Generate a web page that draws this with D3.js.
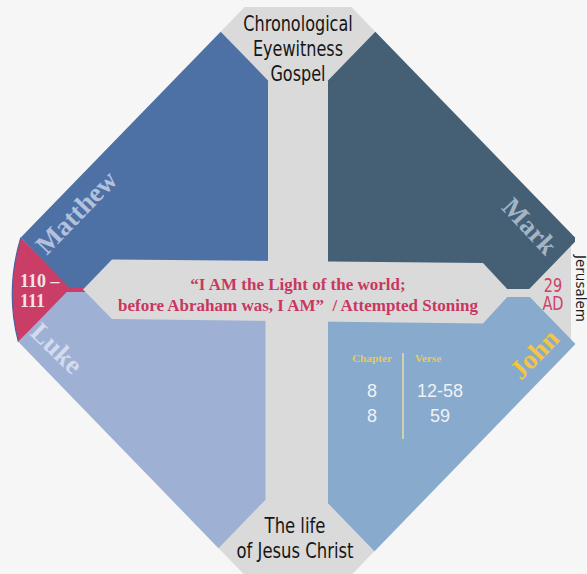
<!DOCTYPE html>
<html><head><meta charset="utf-8">
<script src="https://cdn.jsdelivr.net/npm/d3@7"></script>
<style>
html,body{margin:0;padding:0;background:#f6f6f6;}
svg{display:block;}
</style></head>
<body>
<svg id="chart" width="587" height="574"></svg>
<script>
// ---- content ----
const gospels = ["Matthew", "Mark", "Luke", "John"];
const gospelFill = ["#4e71a5", "#455f75", "#9eb0d4", "#87aacd"];
const gospelText = ["#b4c1dd", "#a3b4c4", "#d3dbec", "#f4c542"];
const titleLines = ["Chronological", "Eyewitness", "Gospel"];
const footerLines = ["The life", "of Jesus Christ"];
const quoteLines = ["\u201CI AM the Light of the world;", "before Abraham was, I AM\u201D\u00A0 / Attempted Stoning"];
const pageRange = ["110 \u2013", "111"];
const dateLines = ["29", "AD"];
const place = "Jerusalem";
const tableHeaders = ["Chapter", "Verse"];
const chapters = ["8", "8"];
const verses = ["12-58", "59"];

// ---- layout ----
const W = 587, H = 574;
const svg = d3.select("#chart");
const cx = 298, cy = 291, ra = 329, rb = 339;
const xS = d3.scaleLinear().domain([-1, 1]).range([cx - ra, cx + ra]);
const yS = d3.scaleLinear().domain([-1, 1]).range([cy - rb, cy + rb]);
// diamond coords: s = X+Y, q = X-Y
const pt = (s, q) => [xS((s + q) / 2), yS((s - q) / 2)];
const rectSQ = (s0, s1, q0, q1) => [pt(s0, q0), pt(s0, q1), pt(s1, q1), pt(s1, q0)];

function clip(poly, f) { // keep f(p) <= 0
  const out = [];
  for (let i = 0; i < poly.length; i++) {
    const A = poly[i], B = poly[(i + 1) % poly.length];
    const fa = f(A), fb = f(B);
    if (fa <= 0) out.push(A);
    if ((fa <= 0) !== (fb <= 0)) {
      const t = fa / (fa - fb);
      out.push([A[0] + t * (B[0] - A[0]), A[1] + t * (B[1] - A[1])]);
    }
  }
  return out;
}
const xMax = v => p => p[0] - v, xMin = v => p => v - p[0];
const yMax = v => p => p[1] - v, yMin = v => p => v - p[1];
const line = d3.line();

// gray base
let gray = rectSQ(-1, 1, -1, 1);
[yMin(7), xMax(571), xMin(20)].forEach(f => gray = clip(gray, f));
svg.append("path").attr("d", line(gray) + "Z").attr("fill", "#dadada");

// red cap
const arcTop = pt(-1, -0.685), arcBot = pt(-0.70, -1);
const redPath = d3.path();
redPath.moveTo(arcTop[0], arcTop[1]);
redPath.quadraticCurveTo(5, 290, arcBot[0], arcBot[1]);
redPath.lineTo(70, 292); redPath.lineTo(90, 292); redPath.lineTo(90, 287); redPath.lineTo(70, 287);
redPath.closePath();
svg.append("path").attr("d", redPath.toString()).attr("fill", "#c93d66");
const arcLine = d3.path();
arcLine.moveTo(arcTop[0], arcTop[1]);
arcLine.quadraticCurveTo(5, 290, arcBot[0], arcBot[1]);
svg.append("path").attr("d", arcLine.toString()).attr("fill", "none").attr("stroke", "#4a62a0").attr("stroke-width", 1.2);

// quadrants
const quadDefs = [
  {sq: [-1, 1, -0.685, 0.53], clips: [xMax(268), yMax(287.5)]},
  {sq: [-0.53, 0.697, -1, 1], clips: [xMin(328), yMax(289), xMax(575)]},
  {sq: [-0.70, 0.517, -1, 1], clips: [xMax(265.5), yMin(292)]},
  {sq: [-1, 1, -0.535, 0.687], clips: [xMin(328), yMin(297), xMax(575)]}
];
quadDefs.forEach((d, i) => {
  let poly = rectSQ(...d.sq);
  d.clips.forEach(f => poly = clip(poly, f));
  svg.append("path").attr("d", line(poly) + "Z").attr("fill", gospelFill[i]);
});

// horizontal band
const band = [[83, 289.5], [112, 259.5], [483, 263], [511, 293], [483, 323.5], [112, 319]];
svg.append("path").attr("d", line(band) + "Z").attr("fill", "#dadada");

// ---- texts ----
const sansN = "'DejaVu Sans Condensed','DejaVu Sans',sans-serif";
const serif = "'Liberation Serif','Times New Roman',serif";
const sans = "'Liberation Sans',Arial,sans-serif";

svg.append("g").selectAll("text").data(titleLines).join("text")
  .attr("transform", (d, i) => `translate(${cx},${31 + i * 25}) scale(0.85,1)`)
  .attr("text-anchor", "middle").attr("font-family", sansN).attr("font-size", 21)
  .attr("fill", "#161616").text(d => d);

svg.append("g").selectAll("text").data(footerLines).join("text")
  .attr("transform", (d, i) => `translate(295,${533 + i * 25}) scale(0.87,1)`)
  .attr("text-anchor", "middle").attr("font-family", sansN).attr("font-size", 21)
  .attr("fill", "#161616").text(d => d);

svg.append("g").selectAll("text").data(quoteLines).join("text")
  .attr("x", 298).attr("y", (d, i) => 290 + i * 21)
  .attr("text-anchor", "middle").attr("font-family", serif).attr("font-weight", "bold")
  .attr("font-size", 17).attr("fill", "#c9375f").style("white-space", "pre").text(d => d);

svg.append("g").selectAll("text").data(pageRange).join("text")
  .attr("x", 20).attr("y", (d, i) => 287 + i * 20)
  .attr("font-family", serif).attr("font-weight", "bold").attr("font-size", 18)
  .attr("fill", "#f3e3e8").text(d => d);

const dateText = svg.append("text")
  .attr("transform", "translate(553,292) scale(0.85,1)")
  .attr("text-anchor", "middle").attr("font-family", sansN).attr("font-size", 19)
  .attr("fill", "#d0406c");
dateText.selectAll("tspan").data(dateLines).join("tspan")
  .attr("x", 0).attr("dy", (d, i) => i === 0 ? 0 : 18).text(d => d);

svg.append("text").attr("transform", "translate(575.5,255) rotate(90)")
  .attr("font-family", "'DejaVu Sans',sans-serif").attr("font-size", 13.5)
  .attr("fill", "#1b1b1b").text(place);

// gospel names
const labelPos = [[76, 212, -46], [530, 226, 47], [57, 348, 44], [534, 354, -46]];
svg.append("g").selectAll("text").data(gospels).join("text")
  .attr("transform", (d, i) => `translate(${labelPos[i][0]},${labelPos[i][1]}) rotate(${labelPos[i][2]})`)
  .attr("text-anchor", "middle").attr("dy", "0.35em")
  .attr("font-family", serif).attr("font-weight", "bold").attr("font-size", 27)
  .attr("fill", (d, i) => gospelText[i]).text(d => d);

// chapter / verse table
const colX = [372, 440];
svg.append("g").selectAll("text").data(tableHeaders).join("text")
  .attr("x", (d, i) => i === 0 ? 372 : 428).attr("y", 362)
  .attr("text-anchor", "middle").attr("font-family", serif).attr("font-weight", "bold")
  .attr("font-size", 11.3).attr("fill", "#e9c95c").text(d => d);
svg.append("line").attr("x1", 403).attr("x2", 403).attr("y1", 353).attr("y2", 439)
  .attr("stroke", "#e6dca6").attr("stroke-width", 1.5);
svg.append("g").selectAll("text").data(chapters).join("text")
  .attr("x", colX[0]).attr("y", (d, i) => 397 + i * 25)
  .attr("text-anchor", "middle").attr("font-family", sans).attr("font-size", 18)
  .attr("fill", "#eef2f7").text(d => d);
svg.append("g").selectAll("text").data(verses).join("text")
  .attr("x", colX[1]).attr("y", (d, i) => 397 + i * 25)
  .attr("text-anchor", "middle").attr("font-family", sans).attr("font-size", 18)
  .attr("fill", "#eef2f7").text(d => d);
</script>
</body></html>
